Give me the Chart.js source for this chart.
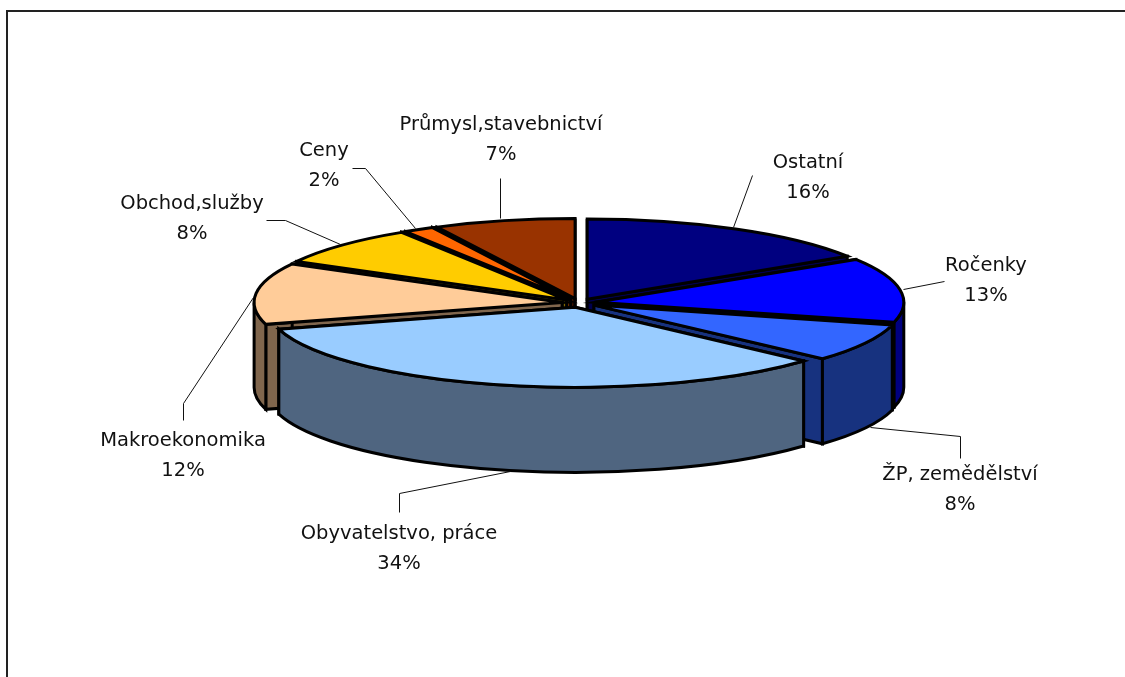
<!DOCTYPE html>
<html>
<head>
<meta charset="utf-8">
<title>Pie</title>
<script src="https://cdn.jsdelivr.net/npm/chart.js@4"></script>
<style>
    html, body { margin: 0; padding: 0; background: #fff; }
    #wrap { position: relative; width: 1125px; height: 677px; overflow: hidden; }
    #frame { position: absolute; left: 6px; top: 10px; right: -5px; bottom: -5px; border: 2px solid #222; }
</style>
</head>
<body>
<div id="wrap">
    <div id="frame"></div>
    <canvas id="pie" width="1125" height="677" style="position:absolute;left:0;top:0"></canvas>
</div>
<script>
// Data (slice sizes, labels show them rounded)
const categories = ['Ostatní', 'Ročenky', 'ŽP, zemědělství', 'Obyvatelstvo, práce', 'Makroekonomika', 'Obchod,služby', 'Ceny', 'Průmysl,stavebnictví'];
const shares = [16, 13, 7.7, 33.9, 12.4, 8, 1.6, 7.4];
const topColors = ['#000080', '#0000ff', '#3366ff', '#99ccff', '#ffcc99', '#ffcc00', '#ff6600', '#993300'];
const wallColors = ['#00004d', '#000080', '#17327f', '#4f6580', '#80664d', '#806600', '#803300', '#4d1a00'];

// Look of the fake 3D pie
const centerX = 579;
const centerY = 303;
const tilt = 0.26;
const depth = 85;
const explode = 17;
const outline = 3;

// Label centres and leader lines, same order as categories
const labelAt = [[808, 163], [986, 266], [960, 475], [399, 534], [183, 441], [192, 204], [324, 151], [501, 125]];
const leaders = [
    [[752, 175], [733, 227]],
    [[944, 281], [903, 289]],
    [[870, 427], [960, 436], [960, 458]],
    [[510, 471], [399, 493], [399, 512]],
    [[253, 297], [183, 403], [183, 420]],
    [[266, 220], [285, 220], [340, 244]],
    [[352, 168], [365, 168], [415, 228]],
    [[500, 178], [500, 218]]
];

function sliceGeometry(el) {
    const mid = (el.startAngle + el.endAngle) / 2;
    return {
        a0: el.startAngle,
        a1: el.endAngle,
        r: el.outerRadius,
        cx: centerX + Math.cos(mid) * explode,
        cy: centerY + Math.sin(mid) * explode * tilt,
        mid: mid
    };
}

function paint(ctx, fill) {
    ctx.fillStyle = fill;
    ctx.fill();
    ctx.stroke();
}

function drawWalls(ctx, g, color) {
    // radial faces
    [g.a0, g.a1].forEach(a => {
        const x = g.cx + Math.cos(a) * g.r;
        const y = g.cy + Math.sin(a) * g.r * tilt;
        ctx.beginPath();
        ctx.moveTo(g.cx, g.cy);
        ctx.lineTo(x, y);
        ctx.lineTo(x, y + depth);
        ctx.lineTo(g.cx, g.cy + depth);
        ctx.closePath();
        paint(ctx, color);
    });
    // outer face, only the part that looks at the viewer
    const from = Math.max(g.a0, 0);
    const to = Math.min(g.a1, Math.PI);
    if (to > from) {
        ctx.beginPath();
        ctx.ellipse(g.cx, g.cy, g.r, g.r * tilt, 0, from, to);
        ctx.ellipse(g.cx, g.cy + depth, g.r, g.r * tilt, 0, to, from, true);
        ctx.closePath();
        paint(ctx, color);
    }
}

const flatPie = {
    id: 'flatPie',
    beforeDatasetsDraw(chart) {
        const ctx = chart.ctx;
        const arcs = chart.getDatasetMeta(0).data;
        const order = arcs.map((el, i) => i).sort((a, b) =>
            Math.sin(sliceGeometry(arcs[a]).mid) - Math.sin(sliceGeometry(arcs[b]).mid));

        ctx.save();
        ctx.lineWidth = outline;
        ctx.lineJoin = 'miter';
        ctx.strokeStyle = '#000';
        order.forEach(i => {
            const el = arcs[i];
            const g = sliceGeometry(el);
            drawWalls(ctx, g, wallColors[i]);

            // top face comes from the library, squashed
            ctx.save();
            ctx.translate(g.cx, g.cy);
            ctx.scale(1, tilt);
            ctx.translate(-el.x, -el.y);
            el.draw(ctx);
            ctx.restore();

            ctx.beginPath();
            ctx.moveTo(g.cx, g.cy);
            ctx.ellipse(g.cx, g.cy, g.r, g.r * tilt, 0, g.a0, g.a1);
            ctx.closePath();
            ctx.stroke();
        });
        ctx.restore();
        return false;
    },
    afterDraw(chart) {
        const ctx = chart.ctx;
        ctx.save();
        ctx.strokeStyle = '#111';
        ctx.lineWidth = 1;
        leaders.forEach(pts => {
            ctx.beginPath();
            pts.forEach((p, i) => i ? ctx.lineTo(p[0] + 0.5, p[1] + 0.5) : ctx.moveTo(p[0] + 0.5, p[1] + 0.5));
            ctx.stroke();
        });
        ctx.fillStyle = '#111';
        ctx.textAlign = 'center';
        ctx.textBaseline = 'middle';
        ctx.font = '19.5px "DejaVu Sans"';
        categories.forEach((name, i) => {
            ctx.fillText(name, labelAt[i][0], labelAt[i][1]);
            ctx.fillText(Math.round(shares[i]) + '%', labelAt[i][0], labelAt[i][1] + 30);
        });
        ctx.restore();
    }
};

new Chart(document.getElementById('pie'), {
    type: 'pie',
    data: {
        labels: categories,
        datasets: [{
            data: shares,
            backgroundColor: topColors,
            borderWidth: 0,
            radius: 308
        }]
    },
    options: {
        responsive: false,
        animation: false,
        layout: { padding: 0 },
        plugins: {
            legend: { display: false },
            tooltip: { enabled: false },
            title: { display: false }
        }
    },
    plugins: [flatPie]
});
</script>
</body>
</html>
